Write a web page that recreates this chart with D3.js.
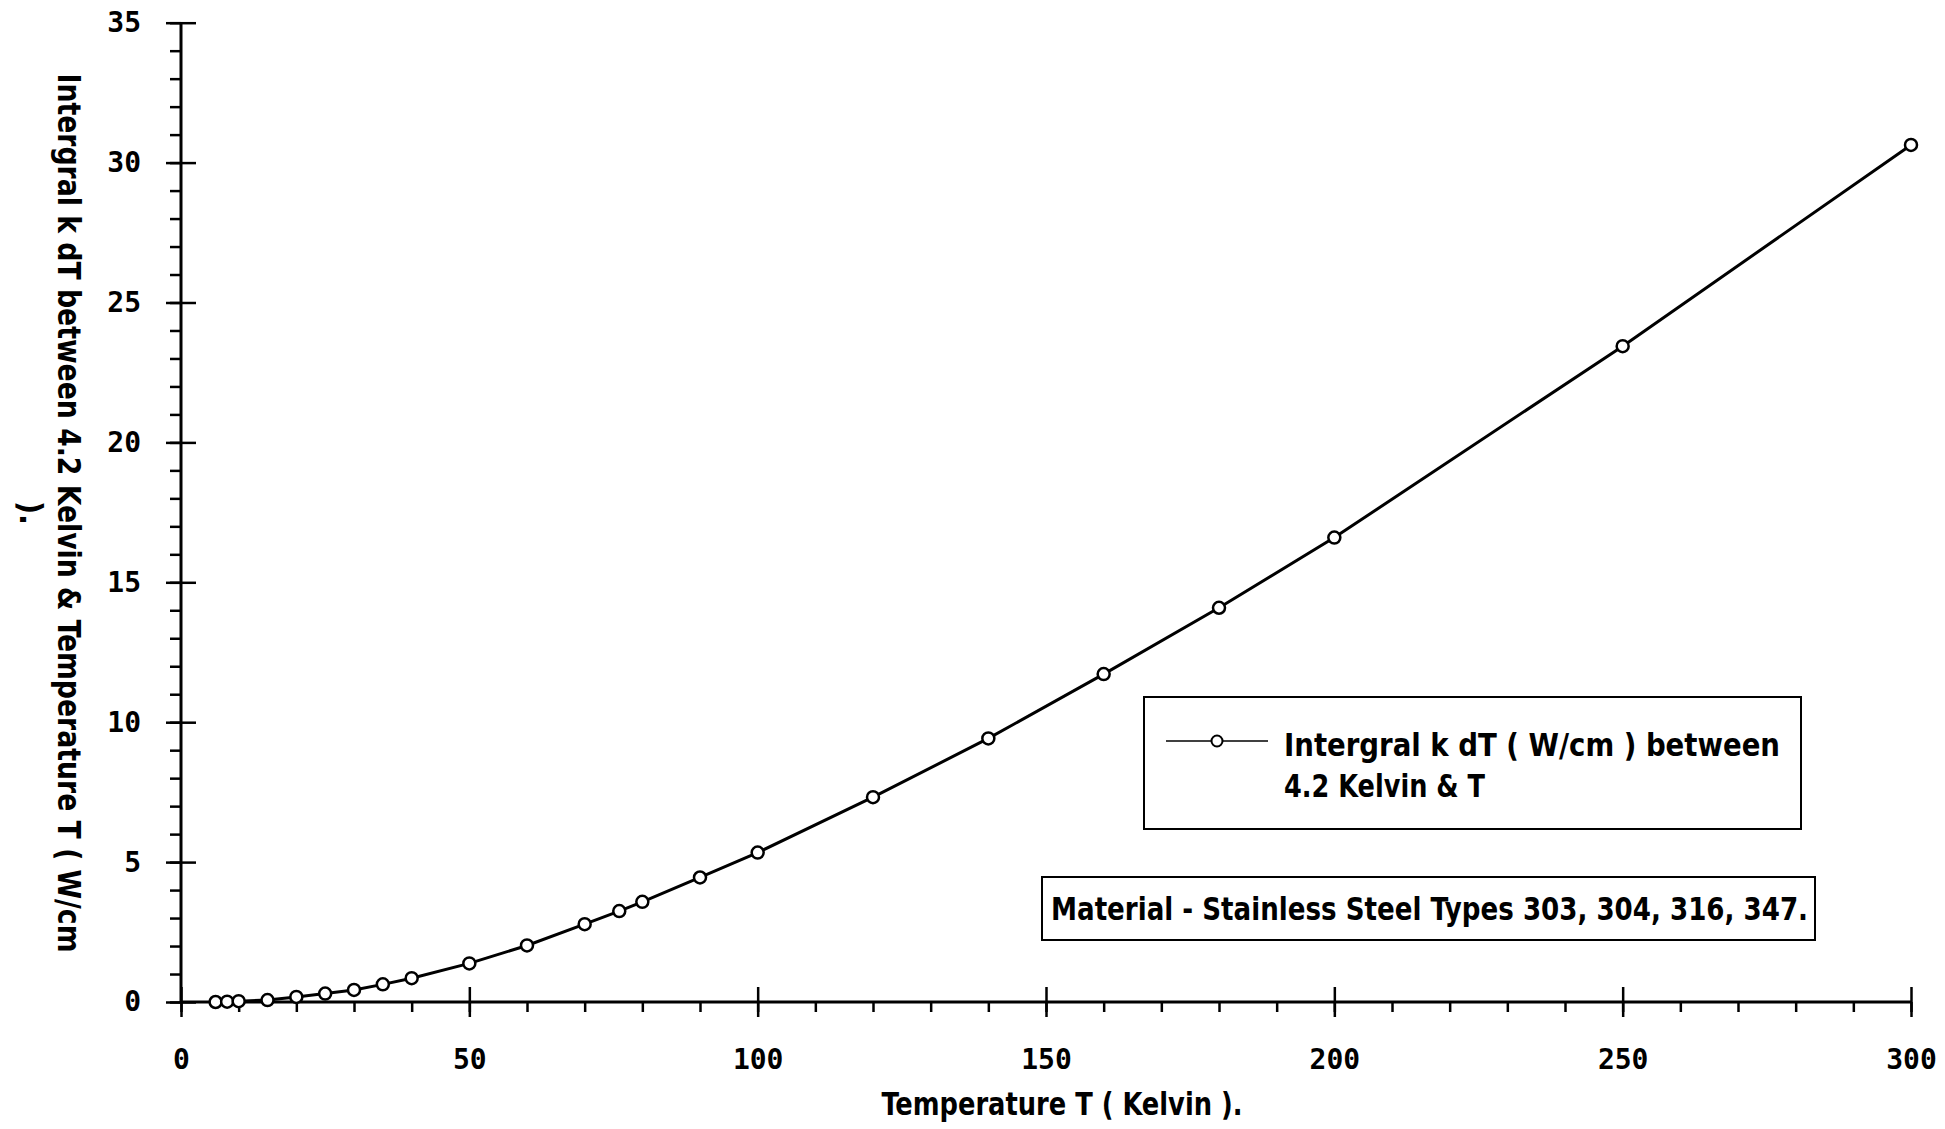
<!DOCTYPE html>
<html>
<head>
<meta charset="utf-8">
<script src="https://cdn.jsdelivr.net/npm/d3@7"></script>
<style>
  body { margin: 0; background: white; }
  .tick text { font-family: "DejaVu Sans Mono", monospace; font-weight: bold; font-size: 28px; fill: black; }
  .ttl { font-family: "Liberation Sans Narrow", "DejaVu Sans Condensed", sans-serif; font-weight: bold; font-size: 32px; fill: black; }
</style>
</head>
<body>
<div id="root"></div>
<script>
// temperature (K) and integral k dT from 4.2 K (W/cm)
var temps = [6, 8, 10, 15, 20, 25, 30, 35, 40, 50, 60, 70, 76, 80, 90, 100, 120, 140, 160, 180, 200, 250, 300];
var integral = [0.0, 0.01, 0.03, 0.07, 0.18, 0.30, 0.43, 0.63, 0.85, 1.38, 2.02, 2.78, 3.25, 3.58, 4.45, 5.34, 7.32, 9.42, 11.72, 14.09, 16.60, 23.44, 30.63];
var xTicks = [0, 50, 100, 150, 200, 250, 300];
var yTicks = [0, 5, 10, 15, 20, 25, 30, 35];
var seriesLabel = ["Intergral k dT ( W/cm ) between", "4.2 Kelvin & T"];
var noteLabel = "Material - Stainless Steel Types 303, 304, 316, 347.";
var xTitle = "Temperature T ( Kelvin ).";
var yTitle = ["Intergral k dT between 4.2 Kelvin & Temperature T ( W/cm", ")."];

var w = 1945, h = 1129;
var margin = { left: 181, right: 1911, top: 22.7, bottom: 1002 };

var data = temps.map(function(t, i) { return { t: t, v: integral[i] }; });

var x = d3.scaleLinear().domain([0, 300]).range([margin.left, margin.right]);
var y = d3.scaleLinear().domain([0, 35]).range([margin.bottom, margin.top]);

var svg = d3.select("#root").append("svg").attr("width", w).attr("height", h);
svg.append("rect").attr("width", w).attr("height", h).attr("fill", "white");

function strip(g) { g.select(".domain").remove(); g.selectAll("line").attr("stroke", "black").attr("stroke-width", 2.5); }

// y axis: minor ticks, major outward with labels, major inward
svg.append("g").attr("transform", "translate(" + margin.left + ",0)")
  .call(d3.axisLeft(y).tickValues(d3.range(0, 36, 1)).tickSize(11).tickFormat("")).call(strip);
svg.append("g").attr("transform", "translate(" + margin.left + ",0)")
  .call(d3.axisLeft(y).tickValues(yTicks).tickSize(15).tickPadding(25)).call(strip);
svg.append("g").attr("transform", "translate(" + margin.left + ",0)")
  .call(d3.axisRight(y).tickValues(yTicks).tickSize(15).tickFormat("")).call(strip);

// x axis
svg.append("g").attr("transform", "translate(0," + margin.bottom + ")")
  .call(d3.axisBottom(x).tickValues(d3.range(0, 301, 10)).tickSize(10).tickFormat("")).call(strip);
svg.append("g").attr("transform", "translate(0," + margin.bottom + ")")
  .call(d3.axisBottom(x).tickValues(xTicks).tickSize(15).tickPadding(32)).call(strip);
svg.append("g").attr("transform", "translate(0," + margin.bottom + ")")
  .call(d3.axisTop(x).tickValues(xTicks).tickSize(15).tickFormat("")).call(strip);

// axis lines
svg.append("line").attr("x1", margin.left).attr("x2", margin.left).attr("y1", margin.top).attr("y2", margin.bottom)
  .attr("stroke", "black").attr("stroke-width", 3);
svg.append("line").attr("x1", margin.left).attr("x2", margin.right).attr("y1", margin.bottom).attr("y2", margin.bottom)
  .attr("stroke", "black").attr("stroke-width", 3);

// curve + markers
var line = d3.line().x(function(d) { return x(d.t); }).y(function(d) { return y(d.v); });
svg.append("path").datum(data).attr("d", line).attr("fill", "none")
  .attr("stroke", "black").attr("stroke-width", 3);
svg.selectAll(".pt").data(data).enter().append("circle").attr("class", "pt")
  .attr("cx", function(d) { return x(d.t); }).attr("cy", function(d) { return y(d.v); })
  .attr("r", 6).attr("fill", "white").attr("stroke", "black").attr("stroke-width", 2.5);

// axis titles
svg.append("text").attr("class", "ttl").attr("x", 1062).attr("y", 1115)
  .attr("text-anchor", "middle").attr("textLength", 361).attr("lengthAdjust", "spacingAndGlyphs").text(xTitle);
svg.append("text").attr("class", "ttl").attr("transform", "translate(58,513) rotate(90)")
  .attr("text-anchor", "middle").attr("textLength", 879).attr("lengthAdjust", "spacingAndGlyphs").text(yTitle[0]);
svg.append("text").attr("class", "ttl").attr("transform", "translate(20,513) rotate(90)")
  .attr("text-anchor", "middle").text(yTitle[1]);

// legend box
svg.append("rect").attr("x", 1144).attr("y", 697).attr("width", 657).attr("height", 132)
  .attr("fill", "white").attr("stroke", "black").attr("stroke-width", 2);
svg.append("line").attr("x1", 1166).attr("x2", 1268).attr("y1", 741).attr("y2", 741)
  .attr("stroke", "black").attr("stroke-width", 1.5);
svg.append("circle").attr("cx", 1217).attr("cy", 741).attr("r", 5.5)
  .attr("fill", "white").attr("stroke", "black").attr("stroke-width", 2);
svg.append("text").attr("class", "ttl").attr("x", 1284).attr("y", 756)
  .attr("textLength", 496).attr("lengthAdjust", "spacingAndGlyphs").text(seriesLabel[0]);
svg.append("text").attr("class", "ttl").attr("x", 1284).attr("y", 797)
  .attr("textLength", 201).attr("lengthAdjust", "spacingAndGlyphs").text(seriesLabel[1]);

// material note
svg.append("rect").attr("x", 1042).attr("y", 877).attr("width", 773).attr("height", 63)
  .attr("fill", "white").attr("stroke", "black").attr("stroke-width", 2);
svg.append("text").attr("class", "ttl").attr("x", 1051).attr("y", 920)
  .attr("textLength", 757).attr("lengthAdjust", "spacingAndGlyphs").text(noteLabel);
</script>
</body>
</html>
